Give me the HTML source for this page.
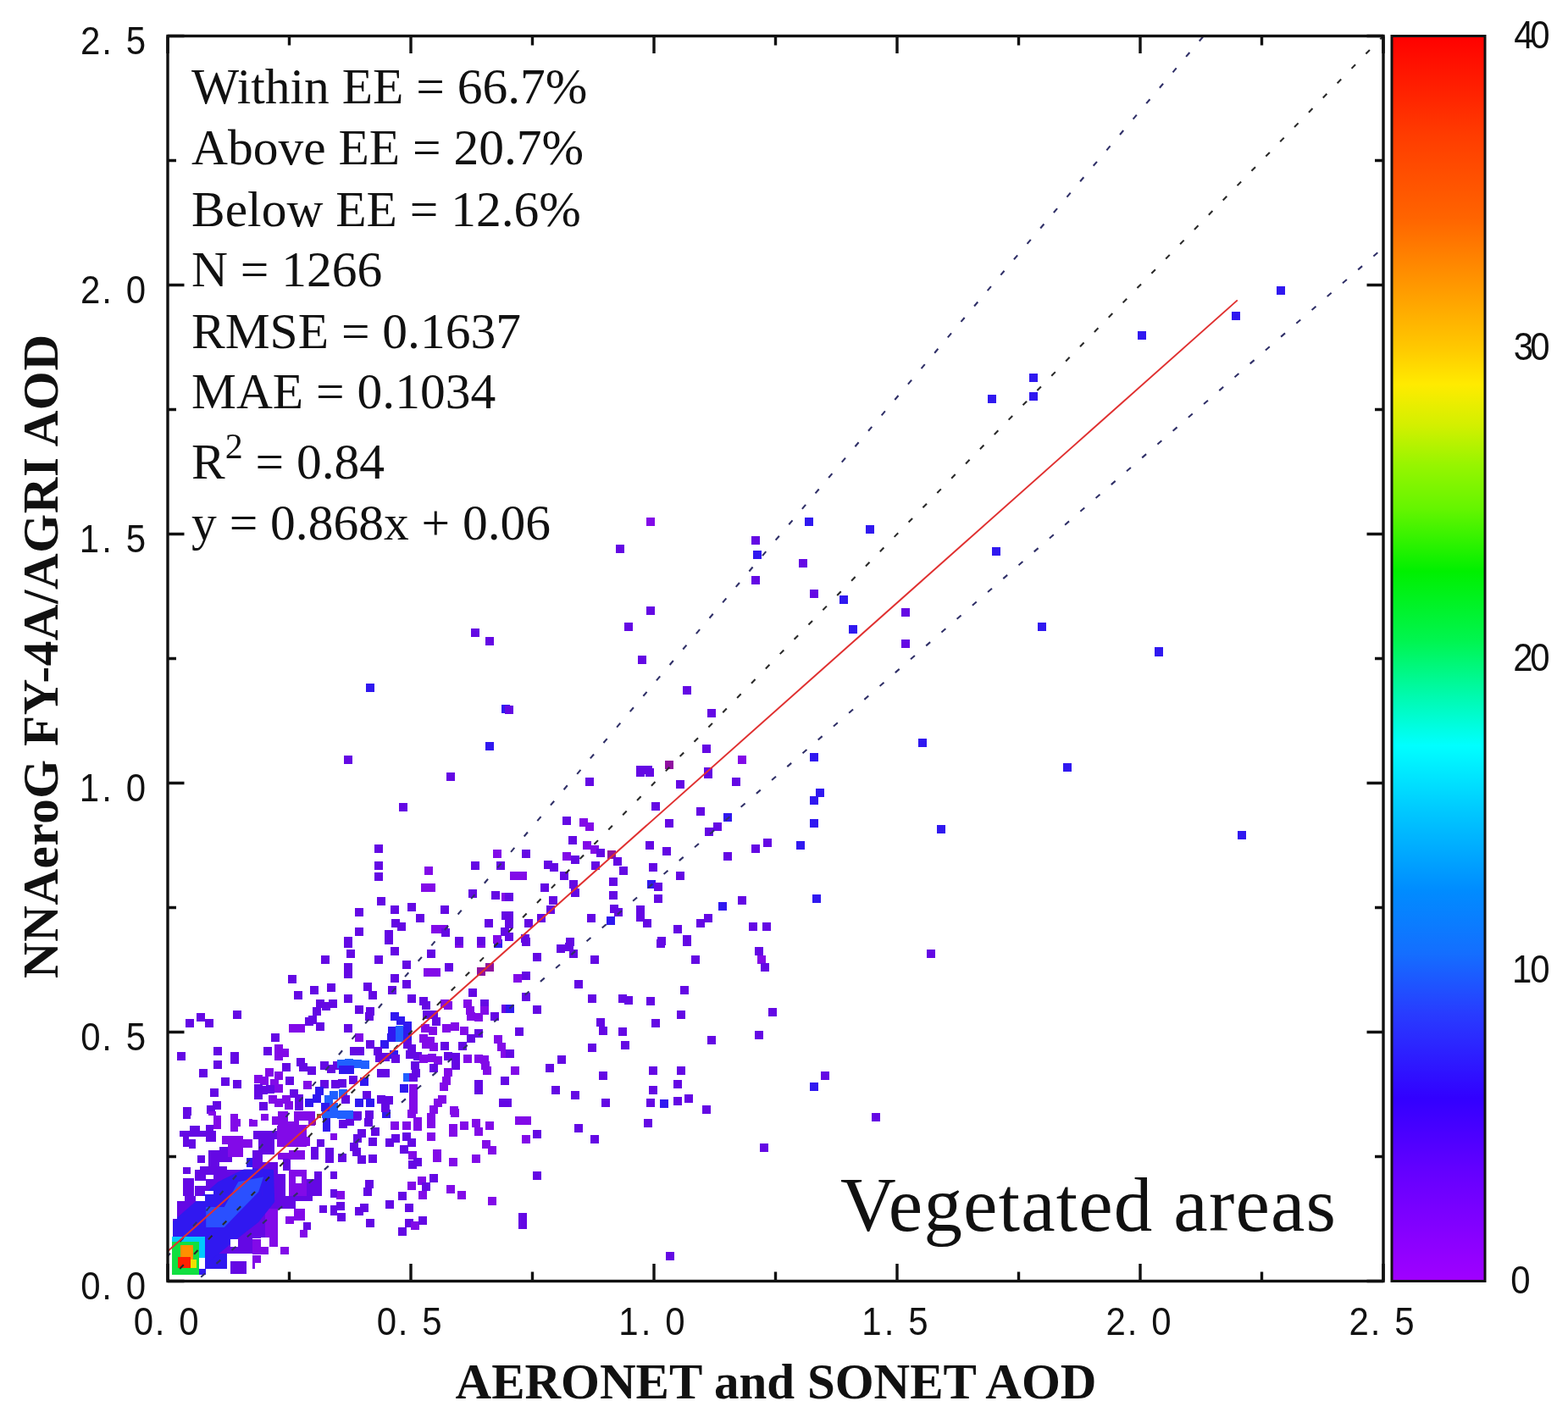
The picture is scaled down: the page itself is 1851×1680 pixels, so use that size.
<!DOCTYPE html><html><head><meta charset="utf-8"><style>
html,body{margin:0;padding:0;background:#fff;}
svg{display:block;}
.tk{font-family:"Liberation Sans",sans-serif;font-size:46px;fill:#111;}
.cbl{font-family:"Liberation Mono",monospace;font-size:44px;fill:#111;}
.st{font-family:"Liberation Serif",serif;font-size:59.5px;fill:#111;}
.big{font-family:"Liberation Serif",serif;font-size:91px;fill:#111;}
.lab{font-family:"Liberation Serif",serif;font-size:59px;font-weight:bold;fill:#111;}
</style></head><body><svg width="1851" height="1680" viewBox="0 0 1851 1680"><rect x="0" y="0" width="1851" height="1680" fill="#fff"/><defs><clipPath id="dc"><rect x="218.0" y="1412.0" width="13.0" height="6.0"/><rect x="242.0" y="1412.0" width="56.0" height="6.0"/><rect x="209.0" y="1418.0" width="36.0" height="21.0"/><rect x="245.0" y="1418.0" width="53.0" height="21.0"/><rect x="204.0" y="1439.0" width="94.0" height="21.0"/><rect x="222.0" y="1447.0" width="33.0" height="13.0"/><rect x="242.0" y="1460.0" width="56.0" height="20.0"/><rect x="242.0" y="1480.0" width="26.0" height="18.0"/><rect x="272.0" y="1489.0" width="19.0" height="15.0"/><rect x="235.0" y="1498.0" width="8.0" height="7.0"/><rect x="215.9" y="1312.0" width="9.5" height="8.9"/><rect x="246.2" y="1312.0" width="8.9" height="4.8"/><rect x="251.6" y="1316.8" width="9.5" height="16.0"/><rect x="271.8" y="1315.0" width="9.5" height="21.4"/><rect x="281.3" y="1321.0" width="3.0" height="9.0"/><rect x="294.4" y="1321.0" width="3.6" height="9.0"/><rect x="223.6" y="1328.7" width="12.5" height="5.9"/><rect x="212.3" y="1334.6" width="30.9" height="7.2"/><rect x="242.6" y="1328.0" width="9.0" height="6.6"/><rect x="242.6" y="1334.6" width="11.9" height="13.1"/><rect x="215.9" y="1341.8" width="7.1" height="11.9"/><rect x="223.0" y="1345.3" width="8.3" height="10.7"/><rect x="262.3" y="1340.6" width="25.0" height="10.1"/><rect x="287.3" y="1344.7" width="10.7" height="10.2"/><rect x="269.4" y="1350.7" width="17.9" height="14.9"/><rect x="259.3" y="1353.7" width="10.1" height="17.8"/><rect x="246.2" y="1357.8" width="13.1" height="19.7"/><rect x="259.9" y="1365.6" width="14.3" height="6.5"/><rect x="233.1" y="1364.4" width="8.4" height="8.3"/><rect x="290.9" y="1366.8" width="7.1" height="10.7"/><rect x="215.9" y="1377.5" width="9.5" height="8.3"/><rect x="236.1" y="1376.9" width="32.1" height="9.5"/><rect x="229.5" y="1380.5" width="13.7" height="13.6"/><rect x="243.2" y="1380.5" width="54.8" height="31.5"/><rect x="243.2" y="1380.5" width="26.8" height="11.5"/><rect x="215.9" y="1391.2" width="13.1" height="20.8"/><rect x="230.1" y="1400.0" width="13.1" height="12.0"/><rect x="298.0" y="1412.0" width="71.4" height="6.0"/><rect x="298.0" y="1418.0" width="51.2" height="8.9"/><rect x="298.0" y="1418.0" width="15.0" height="44.0"/><rect x="313.0" y="1426.9" width="14.8" height="44.6"/><rect x="298.0" y="1462.6" width="9.5" height="17.9"/><rect x="307.5" y="1471.5" width="9.5" height="9.5"/><rect x="298.0" y="1482.0" width="9.5" height="9.0"/><rect x="298.0" y="1491.0" width="3.0" height="6.7"/><rect x="330.7" y="1471.5" width="10.2" height="9.5"/><rect x="337.3" y="1435.8" width="10.1" height="9.5"/><rect x="347.4" y="1426.9" width="12.5" height="13.7"/><rect x="357.5" y="1443.0" width="9.0" height="8.9"/><rect x="354.0" y="1451.9" width="8.9" height="9.5"/><rect x="376.6" y="1423.3" width="8.9" height="8.9"/><rect x="390.3" y="1422.7" width="7.7" height="11.9"/><rect x="390.3" y="1412.0" width="7.7" height="2.4"/><rect x="298.0" y="1322.1" width="6.0" height="7.8"/><rect x="308.1" y="1315.0" width="8.9" height="8.3"/><rect x="320.6" y="1318.0" width="7.2" height="9.5"/><rect x="327.8" y="1312.0" width="44.6" height="16.7"/><rect x="326.6" y="1328.7" width="35.1" height="25.0"/><rect x="361.7" y="1341.8" width="4.2" height="10.7"/><rect x="299.2" y="1334.6" width="27.4" height="10.7"/><rect x="305.1" y="1345.3" width="19.1" height="17.3"/><rect x="298.0" y="1358.4" width="11.9" height="53.6"/><rect x="309.9" y="1371.5" width="17.9" height="40.5"/><rect x="327.8" y="1360.8" width="16.6" height="8.3"/><rect x="333.7" y="1368.0" width="8.9" height="14.2"/><rect x="340.9" y="1357.8" width="19.0" height="11.3"/><rect x="367.0" y="1353.7" width="9.0" height="15.4"/><rect x="374.2" y="1344.7" width="8.3" height="9.0"/><rect x="380.1" y="1312.0" width="17.9" height="7.7"/><rect x="380.7" y="1319.7" width="9.0" height="16.1"/><rect x="390.3" y="1337.6" width="7.7" height="8.3"/><rect x="384.3" y="1354.9" width="10.1" height="17.8"/><rect x="367.6" y="1322.7" width="5.4" height="4.8"/><rect x="309.9" y="1377.5" width="16.7" height="34.5"/><rect x="326.6" y="1386.4" width="10.1" height="25.6"/><rect x="340.9" y="1380.5" width="21.4" height="31.5"/><rect x="362.3" y="1392.4" width="17.8" height="19.6"/><rect x="370.6" y="1383.4" width="8.9" height="8.4"/><rect x="389.7" y="1383.4" width="8.3" height="8.4"/><rect x="389.7" y="1403.7" width="8.3" height="8.3"/></clipPath></defs><g shape-rendering="crispEdges"><rect x="400" y="1322" width="10" height="10" fill="#6408e4"/><rect x="408" y="1319" width="10" height="10" fill="#6408e4"/><rect x="416" y="1313" width="10" height="10" fill="#6408e4"/><rect x="398" y="1311" width="10" height="10" fill="#2060ff"/><rect x="407" y="1311" width="10" height="10" fill="#2060ff"/><rect x="417" y="1312" width="10" height="10" fill="#6408e4"/><rect x="431" y="1311" width="10" height="10" fill="#6408e4"/><rect x="430" y="1320" width="10" height="10" fill="#6408e4"/><rect x="438" y="1331" width="10" height="10" fill="#6408e4"/><rect x="451" y="1310" width="10" height="10" fill="#3018f0"/><rect x="461" y="1324" width="10" height="10" fill="#820ae8"/><rect x="475" y="1324" width="10" height="10" fill="#820ae8"/><rect x="481" y="1310" width="10" height="10" fill="#820ae8"/><rect x="488" y="1319" width="10" height="10" fill="#820ae8"/><rect x="488" y="1325" width="10" height="10" fill="#820ae8"/><rect x="504" y="1314" width="10" height="10" fill="#820ae8"/><rect x="504" y="1322" width="10" height="10" fill="#820ae8"/><rect x="532" y="1309" width="10" height="10" fill="#820ae8"/><rect x="530" y="1327" width="10" height="10" fill="#820ae8"/><rect x="530" y="1332" width="10" height="10" fill="#820ae8"/><rect x="543" y="1324" width="10" height="10" fill="#820ae8"/><rect x="557" y="1321" width="10" height="10" fill="#820ae8"/><rect x="560" y="1331" width="10" height="10" fill="#820ae8"/><rect x="573" y="1324" width="10" height="10" fill="#820ae8"/><rect x="422" y="1333" width="10" height="10" fill="#6408e4"/><rect x="417" y="1339" width="10" height="10" fill="#6408e4"/><rect x="435" y="1343" width="10" height="10" fill="#6408e4"/><rect x="413" y="1349" width="10" height="10" fill="#6408e4"/><rect x="416" y="1355" width="10" height="10" fill="#6408e4"/><rect x="422" y="1364" width="10" height="10" fill="#6408e4"/><rect x="399" y="1362" width="10" height="10" fill="#6408e4"/><rect x="435" y="1363" width="10" height="10" fill="#6408e4"/><rect x="455" y="1344" width="10" height="10" fill="#6408e4"/><rect x="462" y="1339" width="10" height="10" fill="#6408e4"/><rect x="475" y="1337" width="10" height="10" fill="#6408e4"/><rect x="481" y="1344" width="10" height="10" fill="#6408e4"/><rect x="472" y="1352" width="10" height="10" fill="#6408e4"/><rect x="482" y="1359" width="10" height="10" fill="#820ae8"/><rect x="482" y="1370" width="10" height="10" fill="#6408e4"/><rect x="488" y="1367" width="10" height="10" fill="#6408e4"/><rect x="504" y="1337" width="10" height="10" fill="#820ae8"/><rect x="511" y="1357" width="10" height="10" fill="#820ae8"/><rect x="511" y="1362" width="10" height="10" fill="#820ae8"/><rect x="530" y="1367" width="10" height="10" fill="#820ae8"/><rect x="557" y="1363" width="10" height="10" fill="#820ae8"/><rect x="569" y="1346" width="10" height="10" fill="#820ae8"/><rect x="576" y="1353" width="10" height="10" fill="#820ae8"/><rect x="431" y="1393" width="10" height="10" fill="#6408e4"/><rect x="429" y="1402" width="10" height="10" fill="#6408e4"/><rect x="397" y="1406" width="10" height="10" fill="#820ae8"/><rect x="397" y="1419" width="10" height="10" fill="#6408e4"/><rect x="398" y="1432" width="10" height="10" fill="#6408e4"/><rect x="419" y="1425" width="10" height="10" fill="#6408e4"/><rect x="425" y="1421" width="10" height="10" fill="#6408e4"/><rect x="455" y="1417" width="10" height="10" fill="#6408e4"/><rect x="432" y="1439" width="10" height="10" fill="#6408e4"/><rect x="470" y="1407" width="10" height="10" fill="#6408e4"/><rect x="481" y="1395" width="10" height="10" fill="#820ae8"/><rect x="493" y="1389" width="10" height="10" fill="#820ae8"/><rect x="498" y="1396" width="10" height="10" fill="#6408e4"/><rect x="494" y="1406" width="10" height="10" fill="#820ae8"/><rect x="507" y="1386" width="10" height="10" fill="#6408e4"/><rect x="478" y="1421" width="10" height="10" fill="#6408e4"/><rect x="527" y="1399" width="10" height="10" fill="#820ae8"/><rect x="540" y="1406" width="10" height="10" fill="#820ae8"/><rect x="576" y="1413" width="10" height="10" fill="#820ae8"/><rect x="470" y="1449" width="10" height="10" fill="#6408e4"/><rect x="478" y="1439" width="10" height="10" fill="#6408e4"/><rect x="485" y="1442" width="10" height="10" fill="#820ae8"/><rect x="494" y="1436" width="10" height="10" fill="#6408e4"/><rect x="379" y="1128" width="10" height="10" fill="#6408e4"/><rect x="340" y="1151" width="10" height="10" fill="#6408e4"/><rect x="366" y="1164" width="10" height="10" fill="#6408e4"/><rect x="386" y="1161" width="10" height="10" fill="#6408e4"/><rect x="347" y="1170" width="10" height="10" fill="#6408e4"/><rect x="373" y="1180" width="10" height="10" fill="#6408e4"/><rect x="380" y="1183" width="10" height="10" fill="#6408e4"/><rect x="388" y="1180" width="10" height="10" fill="#6408e4"/><rect x="369" y="1189" width="10" height="10" fill="#6408e4"/><rect x="364" y="1199" width="10" height="10" fill="#6408e4"/><rect x="360" y="1201" width="10" height="10" fill="#6408e4"/><rect x="373" y="1207" width="10" height="10" fill="#6408e4"/><rect x="341" y="1209" width="10" height="10" fill="#820ae8"/><rect x="350" y="1209" width="10" height="10" fill="#820ae8"/><rect x="219" y="1203" width="10" height="10" fill="#6408e4"/><rect x="232" y="1196" width="10" height="10" fill="#6408e4"/><rect x="242" y="1203" width="10" height="10" fill="#6408e4"/><rect x="275" y="1193" width="10" height="10" fill="#6408e4"/><rect x="320" y="1220" width="10" height="10" fill="#6408e4"/><rect x="311" y="1236" width="10" height="10" fill="#6408e4"/><rect x="324" y="1233" width="10" height="10" fill="#820ae8"/><rect x="324" y="1242" width="10" height="10" fill="#820ae8"/><rect x="331" y="1238" width="10" height="10" fill="#820ae8"/><rect x="209" y="1242" width="10" height="10" fill="#6408e4"/><rect x="252" y="1236" width="10" height="10" fill="#6408e4"/><rect x="272" y="1242" width="10" height="10" fill="#6408e4"/><rect x="272" y="1246" width="10" height="10" fill="#6408e4"/><rect x="252" y="1252" width="10" height="10" fill="#6408e4"/><rect x="350" y="1249" width="10" height="10" fill="#6408e4"/><rect x="353" y="1255" width="10" height="10" fill="#6408e4"/><rect x="363" y="1259" width="10" height="10" fill="#6408e4"/><rect x="378" y="1253" width="10" height="10" fill="#6408e4"/><rect x="386" y="1257" width="10" height="10" fill="#6408e4"/><rect x="393" y="1253" width="10" height="10" fill="#6408e4"/><rect x="333" y="1255" width="10" height="10" fill="#6408e4"/><rect x="235" y="1262" width="10" height="10" fill="#6408e4"/><rect x="261" y="1272" width="10" height="10" fill="#6408e4"/><rect x="275" y="1275" width="10" height="10" fill="#6408e4"/><rect x="248" y="1285" width="10" height="10" fill="#6408e4"/><rect x="313" y="1261" width="10" height="10" fill="#820ae8"/><rect x="324" y="1265" width="10" height="10" fill="#820ae8"/><rect x="300" y="1269" width="10" height="10" fill="#820ae8"/><rect x="307" y="1271" width="10" height="10" fill="#820ae8"/><rect x="319" y="1274" width="10" height="10" fill="#820ae8"/><rect x="337" y="1271" width="10" height="10" fill="#6408e4"/><rect x="358" y="1276" width="10" height="10" fill="#820ae8"/><rect x="378" y="1275" width="10" height="10" fill="#6408e4"/><rect x="391" y="1275" width="10" height="10" fill="#6408e4"/><rect x="300" y="1280" width="10" height="10" fill="#6408e4"/><rect x="306" y="1282" width="10" height="10" fill="#6408e4"/><rect x="314" y="1281" width="10" height="10" fill="#6408e4"/><rect x="324" y="1280" width="10" height="10" fill="#820ae8"/><rect x="342" y="1286" width="10" height="10" fill="#6408e4"/><rect x="348" y="1292" width="10" height="10" fill="#6408e4"/><rect x="333" y="1293" width="10" height="10" fill="#820ae8"/><rect x="324" y="1297" width="10" height="10" fill="#820ae8"/><rect x="317" y="1293" width="10" height="10" fill="#820ae8"/><rect x="300" y="1288" width="10" height="10" fill="#6408e4"/><rect x="306" y="1301" width="10" height="10" fill="#6408e4"/><rect x="336" y="1300" width="10" height="10" fill="#820ae8"/><rect x="348" y="1301" width="10" height="10" fill="#6408e4"/><rect x="360" y="1297" width="10" height="10" fill="#3018f0"/><rect x="369" y="1292" width="10" height="10" fill="#3018f0"/><rect x="372" y="1283" width="10" height="10" fill="#3018f0"/><rect x="383" y="1293" width="10" height="10" fill="#2060ff"/><rect x="389" y="1288" width="10" height="10" fill="#2060ff"/><rect x="389" y="1302" width="10" height="10" fill="#2060ff"/><rect x="379" y="1302" width="10" height="10" fill="#3018f0"/><rect x="251" y="1300" width="10" height="10" fill="#6408e4"/><rect x="244" y="1305" width="10" height="10" fill="#6408e4"/><rect x="216" y="1307" width="10" height="10" fill="#6408e4"/><rect x="406" y="1109" width="10" height="10" fill="#6408e4"/><rect x="537" y="1109" width="10" height="10" fill="#820ae8"/><rect x="563" y="1109" width="10" height="10" fill="#820ae8"/><rect x="583" y="1109" width="10" height="10" fill="#3018f0"/><rect x="409" y="1121" width="10" height="10" fill="#6408e4"/><rect x="461" y="1118" width="10" height="10" fill="#6408e4"/><rect x="504" y="1121" width="10" height="10" fill="#6408e4"/><rect x="442" y="1128" width="10" height="10" fill="#6408e4"/><rect x="475" y="1134" width="10" height="10" fill="#6408e4"/><rect x="406" y="1137" width="10" height="10" fill="#6408e4"/><rect x="406" y="1145" width="10" height="10" fill="#6408e4"/><rect x="525" y="1137" width="10" height="10" fill="#6408e4"/><rect x="500" y="1143" width="10" height="10" fill="#820ae8"/><rect x="510" y="1143" width="10" height="10" fill="#820ae8"/><rect x="563" y="1142" width="10" height="10" fill="#9010a0"/><rect x="573" y="1137" width="10" height="10" fill="#9010a0"/><rect x="461" y="1150" width="10" height="10" fill="#6408e4"/><rect x="475" y="1157" width="10" height="10" fill="#6408e4"/><rect x="429" y="1160" width="10" height="10" fill="#6408e4"/><rect x="458" y="1164" width="10" height="10" fill="#6408e4"/><rect x="435" y="1170" width="10" height="10" fill="#6408e4"/><rect x="553" y="1167" width="10" height="10" fill="#6408e4"/><rect x="406" y="1174" width="10" height="10" fill="#6408e4"/><rect x="481" y="1174" width="10" height="10" fill="#6408e4"/><rect x="495" y="1177" width="10" height="10" fill="#6408e4"/><rect x="498" y="1182" width="10" height="10" fill="#6408e4"/><rect x="524" y="1182" width="10" height="10" fill="#820ae8"/><rect x="520" y="1180" width="10" height="10" fill="#820ae8"/><rect x="547" y="1180" width="10" height="10" fill="#820ae8"/><rect x="567" y="1180" width="10" height="10" fill="#6408e4"/><rect x="419" y="1187" width="10" height="10" fill="#6408e4"/><rect x="550" y="1188" width="10" height="10" fill="#820ae8"/><rect x="567" y="1188" width="10" height="10" fill="#820ae8"/><rect x="592" y="1186" width="10" height="10" fill="#6408e4"/><rect x="432" y="1189" width="10" height="10" fill="#6408e4"/><rect x="431" y="1195" width="10" height="10" fill="#6408e4"/><rect x="461" y="1195" width="10" height="10" fill="#3018f0"/><rect x="499" y="1193" width="10" height="10" fill="#6408e4"/><rect x="507" y="1193" width="10" height="10" fill="#6408e4"/><rect x="551" y="1195" width="10" height="10" fill="#820ae8"/><rect x="560" y="1196" width="10" height="10" fill="#820ae8"/><rect x="579" y="1195" width="10" height="10" fill="#6408e4"/><rect x="468" y="1200" width="10" height="10" fill="#3018f0"/><rect x="510" y="1201" width="10" height="10" fill="#6408e4"/><rect x="476" y="1206" width="10" height="10" fill="#3018f0"/><rect x="458" y="1212" width="10" height="10" fill="#3018f0"/><rect x="467" y="1211" width="10" height="10" fill="#2060ff"/><rect x="476" y="1212" width="10" height="10" fill="#3018f0"/><rect x="457" y="1220" width="10" height="10" fill="#3018f0"/><rect x="467" y="1220" width="10" height="10" fill="#2060ff"/><rect x="476" y="1219" width="10" height="10" fill="#3018f0"/><rect x="497" y="1209" width="10" height="10" fill="#820ae8"/><rect x="506" y="1212" width="10" height="10" fill="#820ae8"/><rect x="522" y="1209" width="10" height="10" fill="#820ae8"/><rect x="532" y="1207" width="10" height="10" fill="#820ae8"/><rect x="543" y="1212" width="10" height="10" fill="#820ae8"/><rect x="560" y="1215" width="10" height="10" fill="#6408e4"/><rect x="406" y="1209" width="10" height="10" fill="#6408e4"/><rect x="419" y="1220" width="10" height="10" fill="#820ae8"/><rect x="495" y="1221" width="10" height="10" fill="#820ae8"/><rect x="503" y="1224" width="10" height="10" fill="#820ae8"/><rect x="432" y="1228" width="10" height="10" fill="#6408e4"/><rect x="449" y="1228" width="10" height="10" fill="#3018f0"/><rect x="476" y="1228" width="10" height="10" fill="#6408e4"/><rect x="481" y="1233" width="10" height="10" fill="#6408e4"/><rect x="498" y="1228" width="10" height="10" fill="#820ae8"/><rect x="507" y="1231" width="10" height="10" fill="#820ae8"/><rect x="520" y="1230" width="10" height="10" fill="#6408e4"/><rect x="541" y="1230" width="10" height="10" fill="#6408e4"/><rect x="551" y="1221" width="10" height="10" fill="#6408e4"/><rect x="583" y="1222" width="10" height="10" fill="#820ae8"/><rect x="587" y="1231" width="10" height="10" fill="#820ae8"/><rect x="591" y="1239" width="10" height="10" fill="#820ae8"/><rect x="413" y="1236" width="10" height="10" fill="#6408e4"/><rect x="420" y="1236" width="10" height="10" fill="#6408e4"/><rect x="441" y="1236" width="10" height="10" fill="#6408e4"/><rect x="443" y="1244" width="10" height="10" fill="#6408e4"/><rect x="450" y="1243" width="10" height="10" fill="#6408e4"/><rect x="460" y="1240" width="10" height="10" fill="#3018f0"/><rect x="462" y="1245" width="10" height="10" fill="#6408e4"/><rect x="479" y="1240" width="10" height="10" fill="#6408e4"/><rect x="488" y="1242" width="10" height="10" fill="#6408e4"/><rect x="495" y="1245" width="10" height="10" fill="#820ae8"/><rect x="505" y="1244" width="10" height="10" fill="#820ae8"/><rect x="512" y="1247" width="10" height="10" fill="#820ae8"/><rect x="524" y="1242" width="10" height="10" fill="#6408e4"/><rect x="533" y="1243" width="10" height="10" fill="#6408e4"/><rect x="547" y="1245" width="10" height="10" fill="#820ae8"/><rect x="560" y="1245" width="10" height="10" fill="#820ae8"/><rect x="567" y="1246" width="10" height="10" fill="#820ae8"/><rect x="398" y="1251" width="10" height="10" fill="#2060ff"/><rect x="407" y="1250" width="10" height="10" fill="#2060ff"/><rect x="417" y="1251" width="10" height="10" fill="#2060ff"/><rect x="426" y="1252" width="10" height="10" fill="#2060ff"/><rect x="400" y="1258" width="10" height="10" fill="#3018f0"/><rect x="408" y="1258" width="10" height="10" fill="#3018f0"/><rect x="445" y="1262" width="10" height="10" fill="#6408e4"/><rect x="450" y="1262" width="10" height="10" fill="#6408e4"/><rect x="485" y="1253" width="10" height="10" fill="#6408e4"/><rect x="486" y="1262" width="10" height="10" fill="#6408e4"/><rect x="507" y="1256" width="10" height="10" fill="#6408e4"/><rect x="533" y="1253" width="10" height="10" fill="#6408e4"/><rect x="524" y="1261" width="10" height="10" fill="#820ae8"/><rect x="568" y="1253" width="10" height="10" fill="#820ae8"/><rect x="570" y="1259" width="10" height="10" fill="#820ae8"/><rect x="476" y="1267" width="10" height="10" fill="#2060ff"/><rect x="483" y="1267" width="10" height="10" fill="#6408e4"/><rect x="399" y="1274" width="10" height="10" fill="#6408e4"/><rect x="412" y="1270" width="10" height="10" fill="#6408e4"/><rect x="425" y="1272" width="10" height="10" fill="#3018f0"/><rect x="522" y="1271" width="10" height="10" fill="#820ae8"/><rect x="519" y="1278" width="10" height="10" fill="#820ae8"/><rect x="560" y="1275" width="10" height="10" fill="#6408e4"/><rect x="560" y="1282" width="10" height="10" fill="#6408e4"/><rect x="591" y="1271" width="10" height="10" fill="#6408e4"/><rect x="472" y="1280" width="10" height="10" fill="#3018f0"/><rect x="483" y="1280" width="10" height="10" fill="#820ae8"/><rect x="483" y="1289" width="10" height="10" fill="#820ae8"/><rect x="400" y="1286" width="10" height="10" fill="#2060ff"/><rect x="403" y="1293" width="10" height="10" fill="#6408e4"/><rect x="428" y="1288" width="10" height="10" fill="#6408e4"/><rect x="419" y="1297" width="10" height="10" fill="#3018f0"/><rect x="432" y="1297" width="10" height="10" fill="#3018f0"/><rect x="445" y="1293" width="10" height="10" fill="#6408e4"/><rect x="454" y="1294" width="10" height="10" fill="#6408e4"/><rect x="450" y="1303" width="10" height="10" fill="#6408e4"/><rect x="483" y="1297" width="10" height="10" fill="#820ae8"/><rect x="483" y="1305" width="10" height="10" fill="#820ae8"/><rect x="512" y="1297" width="10" height="10" fill="#820ae8"/><rect x="517" y="1293" width="10" height="10" fill="#820ae8"/><rect x="507" y="1305" width="10" height="10" fill="#820ae8"/><rect x="531" y="1306" width="10" height="10" fill="#820ae8"/><rect x="589" y="1297" width="10" height="10" fill="#6408e4"/><rect x="616" y="1107" width="10" height="10" fill="#6408e4"/><rect x="629" y="1125" width="10" height="10" fill="#6408e4"/><rect x="657" y="1115" width="10" height="10" fill="#6408e4"/><rect x="667" y="1113" width="10" height="10" fill="#6408e4"/><rect x="672" y="1121" width="10" height="10" fill="#6408e4"/><rect x="697" y="1128" width="10" height="10" fill="#6408e4"/><rect x="775" y="1109" width="10" height="10" fill="#6408e4"/><rect x="806" y="1107" width="10" height="10" fill="#6408e4"/><rect x="816" y="1128" width="10" height="10" fill="#6408e4"/><rect x="891" y="1118" width="10" height="10" fill="#6408e4"/><rect x="894" y="1128" width="10" height="10" fill="#820ae8"/><rect x="898" y="1137" width="10" height="10" fill="#6408e4"/><rect x="606" y="1150" width="10" height="10" fill="#820ae8"/><rect x="616" y="1147" width="10" height="10" fill="#6408e4"/><rect x="678" y="1157" width="10" height="10" fill="#6408e4"/><rect x="803" y="1164" width="10" height="10" fill="#6408e4"/><rect x="616" y="1172" width="10" height="10" fill="#6408e4"/><rect x="629" y="1187" width="10" height="10" fill="#6408e4"/><rect x="597" y="1186" width="10" height="10" fill="#3018f0"/><rect x="694" y="1174" width="10" height="10" fill="#6408e4"/><rect x="730" y="1174" width="10" height="10" fill="#6408e4"/><rect x="737" y="1176" width="10" height="10" fill="#6408e4"/><rect x="763" y="1177" width="10" height="10" fill="#6408e4"/><rect x="907" y="1190" width="10" height="10" fill="#6408e4"/><rect x="799" y="1193" width="10" height="10" fill="#6408e4"/><rect x="704" y="1202" width="10" height="10" fill="#6408e4"/><rect x="707" y="1212" width="10" height="10" fill="#6408e4"/><rect x="769" y="1203" width="10" height="10" fill="#6408e4"/><rect x="608" y="1213" width="10" height="10" fill="#6408e4"/><rect x="730" y="1213" width="10" height="10" fill="#6408e4"/><rect x="891" y="1217" width="10" height="10" fill="#6408e4"/><rect x="835" y="1223" width="10" height="10" fill="#6408e4"/><rect x="694" y="1232" width="10" height="10" fill="#6408e4"/><rect x="733" y="1229" width="10" height="10" fill="#6408e4"/><rect x="597" y="1239" width="10" height="10" fill="#6408e4"/><rect x="658" y="1246" width="10" height="10" fill="#6408e4"/><rect x="644" y="1256" width="10" height="10" fill="#6408e4"/><rect x="603" y="1259" width="10" height="10" fill="#820ae8"/><rect x="707" y="1265" width="10" height="10" fill="#6408e4"/><rect x="766" y="1259" width="10" height="10" fill="#6408e4"/><rect x="799" y="1259" width="10" height="10" fill="#6408e4"/><rect x="969" y="1265" width="10" height="10" fill="#6408e4"/><rect x="956" y="1278" width="10" height="10" fill="#3018f0"/><rect x="651" y="1282" width="10" height="10" fill="#6408e4"/><rect x="674" y="1288" width="10" height="10" fill="#6408e4"/><rect x="766" y="1282" width="10" height="10" fill="#6408e4"/><rect x="795" y="1275" width="10" height="10" fill="#6408e4"/><rect x="710" y="1297" width="10" height="10" fill="#6408e4"/><rect x="763" y="1297" width="10" height="10" fill="#6408e4"/><rect x="779" y="1298" width="10" height="10" fill="#3018f0"/><rect x="795" y="1295" width="10" height="10" fill="#6408e4"/><rect x="808" y="1292" width="10" height="10" fill="#6408e4"/><rect x="829" y="1305" width="10" height="10" fill="#6408e4"/><rect x="594" y="1297" width="10" height="10" fill="#6408e4"/><rect x="608" y="1318" width="10" height="10" fill="#820ae8"/><rect x="617" y="1318" width="10" height="10" fill="#820ae8"/><rect x="678" y="1327" width="10" height="10" fill="#6408e4"/><rect x="760" y="1321" width="10" height="10" fill="#6408e4"/><rect x="629" y="1334" width="10" height="10" fill="#6408e4"/><rect x="616" y="1340" width="10" height="10" fill="#820ae8"/><rect x="697" y="1340" width="10" height="10" fill="#6408e4"/><rect x="897" y="1350" width="10" height="10" fill="#6408e4"/><rect x="629" y="1383" width="10" height="10" fill="#6408e4"/><rect x="612" y="1432" width="10" height="10" fill="#6408e4"/><rect x="612" y="1441" width="10" height="10" fill="#6408e4"/><rect x="786" y="1478" width="10" height="10" fill="#6408e4"/><rect x="1094" y="1121" width="10" height="10" fill="#6408e4"/><rect x="1029" y="1314" width="10" height="10" fill="#6408e4"/><rect x="527" y="912" width="10" height="10" fill="#6408e4"/><rect x="471" y="948" width="10" height="10" fill="#6408e4"/><rect x="442" y="997" width="10" height="10" fill="#6408e4"/><rect x="442" y="1017" width="10" height="10" fill="#6408e4"/><rect x="442" y="1030" width="10" height="10" fill="#6408e4"/><rect x="501" y="1023" width="10" height="10" fill="#820ae8"/><rect x="497" y="1043" width="10" height="10" fill="#820ae8"/><rect x="504" y="1043" width="10" height="10" fill="#820ae8"/><rect x="556" y="1017" width="10" height="10" fill="#6408e4"/><rect x="582" y="1003" width="10" height="10" fill="#820ae8"/><rect x="586" y="1017" width="10" height="10" fill="#6408e4"/><rect x="553" y="1050" width="10" height="10" fill="#6408e4"/><rect x="580" y="1052" width="10" height="10" fill="#6408e4"/><rect x="592" y="1054" width="10" height="10" fill="#820ae8"/><rect x="445" y="1059" width="10" height="10" fill="#6408e4"/><rect x="419" y="1072" width="10" height="10" fill="#6408e4"/><rect x="461" y="1069" width="10" height="10" fill="#6408e4"/><rect x="481" y="1066" width="10" height="10" fill="#6408e4"/><rect x="520" y="1069" width="10" height="10" fill="#6408e4"/><rect x="491" y="1079" width="10" height="10" fill="#6408e4"/><rect x="462" y="1085" width="10" height="10" fill="#6408e4"/><rect x="469" y="1089" width="10" height="10" fill="#6408e4"/><rect x="419" y="1095" width="10" height="10" fill="#6408e4"/><rect x="454" y="1098" width="10" height="10" fill="#6408e4"/><rect x="509" y="1092" width="10" height="10" fill="#820ae8"/><rect x="519" y="1092" width="10" height="10" fill="#820ae8"/><rect x="521" y="1096" width="10" height="10" fill="#6408e4"/><rect x="572" y="1085" width="10" height="10" fill="#6408e4"/><rect x="592" y="1076" width="10" height="10" fill="#6408e4"/><rect x="591" y="1095" width="10" height="10" fill="#6408e4"/><rect x="406" y="1106" width="10" height="10" fill="#6408e4"/><rect x="454" y="1105" width="10" height="10" fill="#6408e4"/><rect x="537" y="1106" width="10" height="10" fill="#6408e4"/><rect x="563" y="1106" width="10" height="10" fill="#6408e4"/><rect x="582" y="1104" width="10" height="10" fill="#820ae8"/><rect x="751" y="907" width="10" height="10" fill="#6408e4"/><rect x="762" y="907" width="10" height="10" fill="#6408e4"/><rect x="831" y="909" width="10" height="10" fill="#6408e4"/><rect x="691" y="918" width="10" height="10" fill="#6408e4"/><rect x="798" y="921" width="10" height="10" fill="#6408e4"/><rect x="864" y="918" width="10" height="10" fill="#6408e4"/><rect x="963" y="931" width="10" height="10" fill="#3018f0"/><rect x="956" y="940" width="10" height="10" fill="#3018f0"/><rect x="769" y="947" width="10" height="10" fill="#6408e4"/><rect x="822" y="953" width="10" height="10" fill="#6408e4"/><rect x="854" y="960" width="10" height="10" fill="#3018f0"/><rect x="785" y="967" width="10" height="10" fill="#6408e4"/><rect x="842" y="971" width="10" height="10" fill="#6408e4"/><rect x="832" y="977" width="10" height="10" fill="#6408e4"/><rect x="956" y="967" width="10" height="10" fill="#3018f0"/><rect x="664" y="964" width="10" height="10" fill="#6408e4"/><rect x="684" y="966" width="10" height="10" fill="#820ae8"/><rect x="691" y="971" width="10" height="10" fill="#820ae8"/><rect x="671" y="987" width="10" height="10" fill="#6408e4"/><rect x="688" y="993" width="10" height="10" fill="#820ae8"/><rect x="697" y="998" width="10" height="10" fill="#820ae8"/><rect x="704" y="1002" width="10" height="10" fill="#6408e4"/><rect x="717" y="1004" width="10" height="10" fill="#9010a0"/><rect x="762" y="993" width="10" height="10" fill="#6408e4"/><rect x="782" y="1000" width="10" height="10" fill="#6408e4"/><rect x="887" y="997" width="10" height="10" fill="#6408e4"/><rect x="901" y="990" width="10" height="10" fill="#6408e4"/><rect x="940" y="993" width="10" height="10" fill="#3018f0"/><rect x="854" y="1006" width="10" height="10" fill="#6408e4"/><rect x="616" y="1003" width="10" height="10" fill="#6408e4"/><rect x="664" y="1006" width="10" height="10" fill="#820ae8"/><rect x="674" y="1010" width="10" height="10" fill="#6408e4"/><rect x="698" y="1017" width="10" height="10" fill="#6408e4"/><rect x="724" y="1012" width="10" height="10" fill="#6408e4"/><rect x="731" y="1023" width="10" height="10" fill="#6408e4"/><rect x="642" y="1016" width="10" height="10" fill="#6408e4"/><rect x="649" y="1019" width="10" height="10" fill="#6408e4"/><rect x="766" y="1019" width="10" height="10" fill="#6408e4"/><rect x="602" y="1029" width="10" height="10" fill="#820ae8"/><rect x="612" y="1029" width="10" height="10" fill="#820ae8"/><rect x="661" y="1029" width="10" height="10" fill="#6408e4"/><rect x="798" y="1029" width="10" height="10" fill="#6408e4"/><rect x="719" y="1036" width="10" height="10" fill="#6408e4"/><rect x="764" y="1039" width="10" height="10" fill="#3018f0"/><rect x="772" y="1042" width="10" height="10" fill="#6408e4"/><rect x="638" y="1043" width="10" height="10" fill="#6408e4"/><rect x="672" y="1039" width="10" height="10" fill="#6408e4"/><rect x="674" y="1049" width="10" height="10" fill="#6408e4"/><rect x="596" y="1054" width="10" height="10" fill="#6408e4"/><rect x="719" y="1052" width="10" height="10" fill="#6408e4"/><rect x="772" y="1056" width="10" height="10" fill="#6408e4"/><rect x="871" y="1058" width="10" height="10" fill="#6408e4"/><rect x="959" y="1056" width="10" height="10" fill="#3018f0"/><rect x="648" y="1058" width="10" height="10" fill="#6408e4"/><rect x="645" y="1069" width="10" height="10" fill="#6408e4"/><rect x="720" y="1068" width="10" height="10" fill="#6408e4"/><rect x="725" y="1072" width="10" height="10" fill="#6408e4"/><rect x="751" y="1069" width="10" height="10" fill="#6408e4"/><rect x="751" y="1078" width="10" height="10" fill="#6408e4"/><rect x="848" y="1065" width="10" height="10" fill="#3018f0"/><rect x="596" y="1076" width="10" height="10" fill="#6408e4"/><rect x="596" y="1086" width="10" height="10" fill="#6408e4"/><rect x="634" y="1079" width="10" height="10" fill="#6408e4"/><rect x="619" y="1085" width="10" height="10" fill="#6408e4"/><rect x="693" y="1079" width="10" height="10" fill="#6408e4"/><rect x="716" y="1082" width="10" height="10" fill="#3018f0"/><rect x="759" y="1085" width="10" height="10" fill="#6408e4"/><rect x="822" y="1085" width="10" height="10" fill="#6408e4"/><rect x="831" y="1079" width="10" height="10" fill="#6408e4"/><rect x="884" y="1089" width="10" height="10" fill="#6408e4"/><rect x="900" y="1089" width="10" height="10" fill="#6408e4"/><rect x="795" y="1092" width="10" height="10" fill="#6408e4"/><rect x="596" y="1101" width="10" height="10" fill="#6408e4"/><rect x="615" y="1103" width="10" height="10" fill="#6408e4"/><rect x="668" y="1107" width="10" height="10" fill="#6408e4"/><rect x="776" y="1106" width="10" height="10" fill="#6408e4"/><rect x="806" y="1104" width="10" height="10" fill="#6408e4"/><rect x="1106" y="974" width="10" height="10" fill="#3018f0"/><rect x="1461" y="981" width="10" height="10" fill="#3018f0"/><rect x="556" y="742" width="10" height="10" fill="#6408e4"/><rect x="573" y="752" width="10" height="10" fill="#6408e4"/><rect x="432" y="807" width="10" height="10" fill="#3018f0"/><rect x="592" y="832" width="10" height="10" fill="#3018f0"/><rect x="573" y="876" width="10" height="10" fill="#3018f0"/><rect x="406" y="892" width="10" height="10" fill="#6408e4"/><rect x="763" y="716" width="10" height="10" fill="#6408e4"/><rect x="737" y="735" width="10" height="10" fill="#6408e4"/><rect x="753" y="774" width="10" height="10" fill="#6408e4"/><rect x="806" y="810" width="10" height="10" fill="#6408e4"/><rect x="596" y="833" width="10" height="10" fill="#6408e4"/><rect x="835" y="837" width="10" height="10" fill="#6408e4"/><rect x="829" y="879" width="10" height="10" fill="#6408e4"/><rect x="871" y="892" width="10" height="10" fill="#820ae8"/><rect x="956" y="889" width="10" height="10" fill="#3018f0"/><rect x="785" y="898" width="10" height="10" fill="#9010a0"/><rect x="751" y="904" width="10" height="10" fill="#6408e4"/><rect x="760" y="904" width="10" height="10" fill="#6408e4"/><rect x="831" y="906" width="10" height="10" fill="#6408e4"/><rect x="1064" y="718" width="10" height="10" fill="#6408e4"/><rect x="1002" y="738" width="10" height="10" fill="#3018f0"/><rect x="1064" y="755" width="10" height="10" fill="#6408e4"/><rect x="1225" y="735" width="10" height="10" fill="#3018f0"/><rect x="1363" y="765" width="10" height="10" fill="#3018f0"/><rect x="1084" y="872" width="10" height="10" fill="#3018f0"/><rect x="1255" y="901" width="10" height="10" fill="#3018f0"/><rect x="763" y="611" width="10" height="10" fill="#820ae8"/><rect x="727" y="643" width="10" height="10" fill="#6408e4"/><rect x="950" y="611" width="10" height="10" fill="#3018f0"/><rect x="887" y="633" width="10" height="10" fill="#6408e4"/><rect x="889" y="650" width="10" height="10" fill="#3018f0"/><rect x="943" y="660" width="10" height="10" fill="#6408e4"/><rect x="887" y="680" width="10" height="10" fill="#6408e4"/><rect x="956" y="696" width="10" height="10" fill="#6408e4"/><rect x="991" y="703" width="10" height="10" fill="#3018f0"/><rect x="1022" y="620" width="10" height="10" fill="#3018f0"/><rect x="1171" y="646" width="10" height="10" fill="#3018f0"/><rect x="1215" y="441" width="10" height="10" fill="#3018f0"/><rect x="1215" y="463" width="10" height="10" fill="#3018f0"/><rect x="1166" y="466" width="10" height="10" fill="#3018f0"/><rect x="1507" y="338" width="10" height="10" fill="#3018f0"/><rect x="1454" y="368" width="10" height="10" fill="#3018f0"/><rect x="1343" y="391" width="10" height="10" fill="#3018f0"/><rect x="1363" y="764" width="10" height="10" fill="#3018f0"/><rect x="218.0" y="1412.0" width="13.0" height="6.0" fill="#6408e4"/><rect x="242.0" y="1412.0" width="56.0" height="6.0" fill="#6408e4"/><rect x="209.0" y="1418.0" width="36.0" height="21.0" fill="#6408e4"/><rect x="245.0" y="1418.0" width="53.0" height="21.0" fill="#6408e4"/><rect x="204.0" y="1439.0" width="94.0" height="21.0" fill="#6408e4"/><rect x="222.0" y="1447.0" width="33.0" height="13.0" fill="#2060ff"/><rect x="242.0" y="1460.0" width="56.0" height="20.0" fill="#6408e4"/><rect x="242.0" y="1480.0" width="26.0" height="18.0" fill="#3018f0"/><rect x="272.0" y="1489.0" width="19.0" height="15.0" fill="#6408e4"/><rect x="235.0" y="1498.0" width="8.0" height="7.0" fill="#3018f0"/><rect x="215.9" y="1312.0" width="9.5" height="8.9" fill="#6408e4"/><rect x="246.2" y="1312.0" width="8.9" height="4.8" fill="#820ae8"/><rect x="251.6" y="1316.8" width="9.5" height="16.0" fill="#820ae8"/><rect x="271.8" y="1315.0" width="9.5" height="21.4" fill="#820ae8"/><rect x="281.3" y="1321.0" width="3.0" height="9.0" fill="#820ae8"/><rect x="294.4" y="1321.0" width="3.6" height="9.0" fill="#820ae8"/><rect x="223.6" y="1328.7" width="12.5" height="5.9" fill="#6408e4"/><rect x="212.3" y="1334.6" width="30.9" height="7.2" fill="#6408e4"/><rect x="242.6" y="1328.0" width="9.0" height="6.6" fill="#6408e4"/><rect x="242.6" y="1334.6" width="11.9" height="13.1" fill="#6408e4"/><rect x="215.9" y="1341.8" width="7.1" height="11.9" fill="#6408e4"/><rect x="223.0" y="1345.3" width="8.3" height="10.7" fill="#6408e4"/><rect x="262.3" y="1340.6" width="25.0" height="10.1" fill="#820ae8"/><rect x="287.3" y="1344.7" width="10.7" height="10.2" fill="#820ae8"/><rect x="269.4" y="1350.7" width="17.9" height="14.9" fill="#820ae8"/><rect x="259.3" y="1353.7" width="10.1" height="17.8" fill="#6408e4"/><rect x="246.2" y="1357.8" width="13.1" height="19.7" fill="#6408e4"/><rect x="259.9" y="1365.6" width="14.3" height="6.5" fill="#6408e4"/><rect x="233.1" y="1364.4" width="8.4" height="8.3" fill="#6408e4"/><rect x="290.9" y="1366.8" width="7.1" height="10.7" fill="#3018f0"/><rect x="215.9" y="1377.5" width="9.5" height="8.3" fill="#6408e4"/><rect x="236.1" y="1376.9" width="32.1" height="9.5" fill="#6408e4"/><rect x="229.5" y="1380.5" width="13.7" height="13.6" fill="#6408e4"/><rect x="243.2" y="1380.5" width="54.8" height="31.5" fill="#6408e4"/><rect x="243.2" y="1380.5" width="26.8" height="11.5" fill="#6408e4"/><rect x="215.9" y="1391.2" width="13.1" height="20.8" fill="#6408e4"/><rect x="230.1" y="1400.0" width="13.1" height="12.0" fill="#6408e4"/><rect x="298.0" y="1412.0" width="71.4" height="6.0" fill="#6408e4"/><rect x="298.0" y="1418.0" width="51.2" height="8.9" fill="#6408e4"/><rect x="298.0" y="1418.0" width="15.0" height="44.0" fill="#6408e4"/><rect x="313.0" y="1426.9" width="14.8" height="44.6" fill="#820ae8"/><rect x="298.0" y="1462.6" width="9.5" height="17.9" fill="#820ae8"/><rect x="307.5" y="1471.5" width="9.5" height="9.5" fill="#820ae8"/><rect x="298.0" y="1482.0" width="9.5" height="9.0" fill="#820ae8"/><rect x="298.0" y="1491.0" width="3.0" height="6.7" fill="#820ae8"/><rect x="330.7" y="1471.5" width="10.2" height="9.5" fill="#820ae8"/><rect x="337.3" y="1435.8" width="10.1" height="9.5" fill="#820ae8"/><rect x="347.4" y="1426.9" width="12.5" height="13.7" fill="#820ae8"/><rect x="357.5" y="1443.0" width="9.0" height="8.9" fill="#6408e4"/><rect x="354.0" y="1451.9" width="8.9" height="9.5" fill="#820ae8"/><rect x="376.6" y="1423.3" width="8.9" height="8.9" fill="#6408e4"/><rect x="390.3" y="1422.7" width="7.7" height="11.9" fill="#6408e4"/><rect x="390.3" y="1412.0" width="7.7" height="2.4" fill="#6408e4"/><rect x="298.0" y="1322.1" width="6.0" height="7.8" fill="#820ae8"/><rect x="308.1" y="1315.0" width="8.9" height="8.3" fill="#820ae8"/><rect x="320.6" y="1318.0" width="7.2" height="9.5" fill="#820ae8"/><rect x="327.8" y="1312.0" width="44.6" height="16.7" fill="#820ae8"/><rect x="326.6" y="1328.7" width="35.1" height="25.0" fill="#820ae8"/><rect x="361.7" y="1341.8" width="4.2" height="10.7" fill="#820ae8"/><rect x="299.2" y="1334.6" width="27.4" height="10.7" fill="#6408e4"/><rect x="305.1" y="1345.3" width="19.1" height="17.3" fill="#6408e4"/><rect x="298.0" y="1358.4" width="11.9" height="53.6" fill="#6408e4"/><rect x="309.9" y="1371.5" width="17.9" height="40.5" fill="#6408e4"/><rect x="327.8" y="1360.8" width="16.6" height="8.3" fill="#820ae8"/><rect x="333.7" y="1368.0" width="8.9" height="14.2" fill="#6408e4"/><rect x="340.9" y="1357.8" width="19.0" height="11.3" fill="#820ae8"/><rect x="367.0" y="1353.7" width="9.0" height="15.4" fill="#6408e4"/><rect x="374.2" y="1344.7" width="8.3" height="9.0" fill="#6408e4"/><rect x="380.1" y="1312.0" width="17.9" height="7.7" fill="#2060ff"/><rect x="380.7" y="1319.7" width="9.0" height="16.1" fill="#3018f0"/><rect x="390.3" y="1337.6" width="7.7" height="8.3" fill="#820ae8"/><rect x="384.3" y="1354.9" width="10.1" height="17.8" fill="#6408e4"/><rect x="367.6" y="1322.7" width="5.4" height="4.8" fill="#9010a0"/><rect x="309.9" y="1377.5" width="16.7" height="34.5" fill="#6408e4"/><rect x="326.6" y="1386.4" width="10.1" height="25.6" fill="#6408e4"/><rect x="340.9" y="1380.5" width="21.4" height="31.5" fill="#820ae8"/><rect x="362.3" y="1392.4" width="17.8" height="19.6" fill="#6408e4"/><rect x="370.6" y="1383.4" width="8.9" height="8.4" fill="#6408e4"/><rect x="389.7" y="1383.4" width="8.3" height="8.4" fill="#6408e4"/><rect x="389.7" y="1403.7" width="8.3" height="8.3" fill="#6408e4"/></g><g clip-path="url(#dc)"><polygon points="202.8,1443.0 257.5,1395.3 290.9,1378.7 323.0,1381.0 324.2,1419.1 305.1,1443.0 271.8,1469.1 245.6,1490.6 233.7,1484.6 202.8,1460.8" fill="#3018f0"/><polygon points="243.2,1425.1 264.7,1425.1 281.3,1395.3 311.1,1389.4 305.1,1407.2 264.7,1448.9 243.2,1448.9" fill="#2a50ff"/></g><g shape-rendering="crispEdges"><rect x="272.0" y="1463.0" width="9.0" height="9.0" fill="#fff"/><rect x="243.2" y="1387.0" width="8.4" height="4.8" fill="#fff"/><rect x="242.0" y="1406.0" width="9.6" height="3.6" fill="#fff"/><rect x="307.5" y="1461.4" width="10.1" height="10.1" fill="#fff"/><rect x="353.4" y="1322.7" width="10.1" height="4.8" fill="#fff"/><rect x="339.7" y="1312.0" width="7.1" height="11.9" fill="#fff"/><rect x="349.2" y="1389.4" width="7.1" height="7.1" fill="#fff"/><rect x="203.0" y="1460.0" width="39.0" height="6.0" fill="#00c8ff"/><rect x="203.0" y="1466.0" width="32.0" height="39.0" fill="#10e040"/><rect x="213.0" y="1470.0" width="15.0" height="20.0" fill="#ff9000"/><rect x="210.0" y="1484.0" width="15.0" height="13.0" fill="#ff2000"/><rect x="225.0" y="1487.0" width="7.0" height="10.0" fill="#f0e000"/><rect x="235.0" y="1466.0" width="7.0" height="19.0" fill="#00c8ff"/><rect x="374.2" y="1315.0" width="4.8" height="4.7" fill="#8a5a20"/></g><line x1="198.0" y1="1512.5" x2="1633.0" y2="42.5" stroke="#2a2a2a" stroke-width="2.1" stroke-dasharray="6.5 17.65" stroke-dashoffset="3.8"/><line x1="198.0" y1="1483.1" x2="1420.8695652173915" y2="42.5" stroke="#303068" stroke-width="2.1" stroke-dasharray="6.5 17.65" stroke-dashoffset="1.95"/><line x1="231.76470588235293" y1="1512.5" x2="1633.0" y2="292.39999999999986" stroke="#303068" stroke-width="2.1" stroke-dasharray="6.5 17.65" stroke-dashoffset="16.95"/><line x1="198.0" y1="1477.22" x2="1460.8000000000002" y2="354.37519999999995" stroke="#e03030" stroke-width="2"/><path d="M198.0 1512.5V1492.0M198.0 42.5V63.0M198.0 1512.5H217.5M1633.0 1512.5H1613.5M341.5 1512.5V1501.5M341.5 42.5V53.5M198.0 1365.5H208.0M1633.0 1365.5H1623.0M485.0 1512.5V1492.0M485.0 42.5V63.0M198.0 1218.5H217.5M1633.0 1218.5H1613.5M628.5 1512.5V1501.5M628.5 42.5V53.5M198.0 1071.5H208.0M1633.0 1071.5H1623.0M772.0 1512.5V1492.0M772.0 42.5V63.0M198.0 924.5H217.5M1633.0 924.5H1613.5M915.5 1512.5V1501.5M915.5 42.5V53.5M198.0 777.5H208.0M1633.0 777.5H1623.0M1059.0 1512.5V1492.0M1059.0 42.5V63.0M198.0 630.5H217.5M1633.0 630.5H1613.5M1202.5 1512.5V1501.5M1202.5 42.5V53.5M198.0 483.5H208.0M1633.0 483.5H1623.0M1346.0 1512.5V1492.0M1346.0 42.5V63.0M198.0 336.5H217.5M1633.0 336.5H1613.5M1489.5 1512.5V1501.5M1489.5 42.5V53.5M198.0 189.5H208.0M1633.0 189.5H1623.0M1633.0 1512.5V1492.0M1633.0 42.5V63.0M198.0 42.5H217.5M1633.0 42.5H1613.5" stroke="#111" stroke-width="3.4" fill="none"/><rect x="198.0" y="42.5" width="1435.0" height="1470.0" fill="none" stroke="#111" stroke-width="3.4"/><defs><linearGradient id="cb" x1="0" y1="0" x2="0" y2="1"><stop offset="0" stop-color="#ff0000"/><stop offset="0.08" stop-color="#ff3c00"/><stop offset="0.146" stop-color="#ff6400"/><stop offset="0.209" stop-color="#ffa000"/><stop offset="0.25" stop-color="#ffc800"/><stop offset="0.28" stop-color="#ffeb00"/><stop offset="0.313" stop-color="#d2f000"/><stop offset="0.345" stop-color="#96f500"/><stop offset="0.38" stop-color="#64f500"/><stop offset="0.43" stop-color="#00f000"/><stop offset="0.486" stop-color="#00f550"/><stop offset="0.528" stop-color="#00faaa"/><stop offset="0.57" stop-color="#00ffff"/><stop offset="0.623" stop-color="#00c8ff"/><stop offset="0.686" stop-color="#008cff"/><stop offset="0.737" stop-color="#146eff"/><stop offset="0.785" stop-color="#283cff"/><stop offset="0.853" stop-color="#3200ff"/><stop offset="0.912" stop-color="#6400ff"/><stop offset="0.97" stop-color="#8c00ff"/><stop offset="1.0" stop-color="#a000ff"/></linearGradient></defs><rect x="1643" y="42.5" width="110" height="1470.0" fill="url(#cb)" stroke="#111" stroke-width="3"/><text transform="scale(0.913 1)" x="172.90 200.07 231.50" y="1575.8" class="tk">0.0</text><text transform="scale(0.913 1)" x="104.45 131.62 163.04" y="1533.8" class="tk">0.0</text><text transform="scale(0.913 1)" x="487.25 514.42 545.80" y="1575.8" class="tk">0.5</text><text transform="scale(0.913 1)" x="104.45 131.62 163.00" y="1239.8" class="tk">0.5</text><text transform="scale(0.913 1)" x="799.89 828.77 860.20" y="1575.8" class="tk">1.0</text><text transform="scale(0.913 1)" x="102.74 131.62 163.04" y="945.8" class="tk">1.0</text><text transform="scale(0.913 1)" x="1114.24 1143.12 1174.50" y="1575.8" class="tk">1.5</text><text transform="scale(0.913 1)" x="102.74 131.62 163.00" y="651.8" class="tk">1.5</text><text transform="scale(0.913 1)" x="1429.78 1457.46 1488.89" y="1575.8" class="tk">2.0</text><text transform="scale(0.913 1)" x="103.93 131.62 163.04" y="357.8" class="tk">2.0</text><text transform="scale(0.913 1)" x="1744.13 1771.81 1803.20" y="1575.8" class="tk">2.5</text><text transform="scale(0.913 1)" x="103.93 131.62 163.00" y="63.8" class="tk">2.5</text><text transform="scale(0.913 1)" x="1953.30" y="1527.5" class="tk">0</text><text transform="scale(0.913 1)" x="1955.20 1978.49" y="1160.0" class="tk">10</text><text transform="scale(0.913 1)" x="1956.39 1978.49" y="792.5" class="tk">20</text><text transform="scale(0.913 1)" x="1956.96 1978.49" y="425.0" class="tk">30</text><text transform="scale(0.913 1)" x="1957.65 1978.49" y="57.5" class="tk">40</text><text x="226" y="122" class="st">Within EE = 66.7%</text><text x="226" y="193.7" class="st">Above EE = 20.7%</text><text x="226" y="266.6" class="st">Below EE = 12.6%</text><text x="226" y="338.2" class="st">N = 1266</text><text x="226" y="410.8" class="st">RMSE = 0.1637</text><text x="226" y="482.4" class="st">MAE = 0.1034</text><text x="226" y="564.8" class="st">R<tspan dy="-24.3" font-size="42">2</tspan><tspan dy="24.3"> = 0.84</tspan></text><text x="226" y="636.5" class="st">y = 0.868x + 0.06</text><text x="992" y="1453.4" class="big" textLength="585" lengthAdjust="spacing">Vegetated areas</text><text x="916" y="1651" text-anchor="middle" class="lab">AERONET and SONET AOD</text><text transform="translate(68,775) rotate(-90)" text-anchor="middle" class="lab" textLength="760" lengthAdjust="spacing">NNAeroG FY-4A/AGRI AOD</text></svg></body></html>
